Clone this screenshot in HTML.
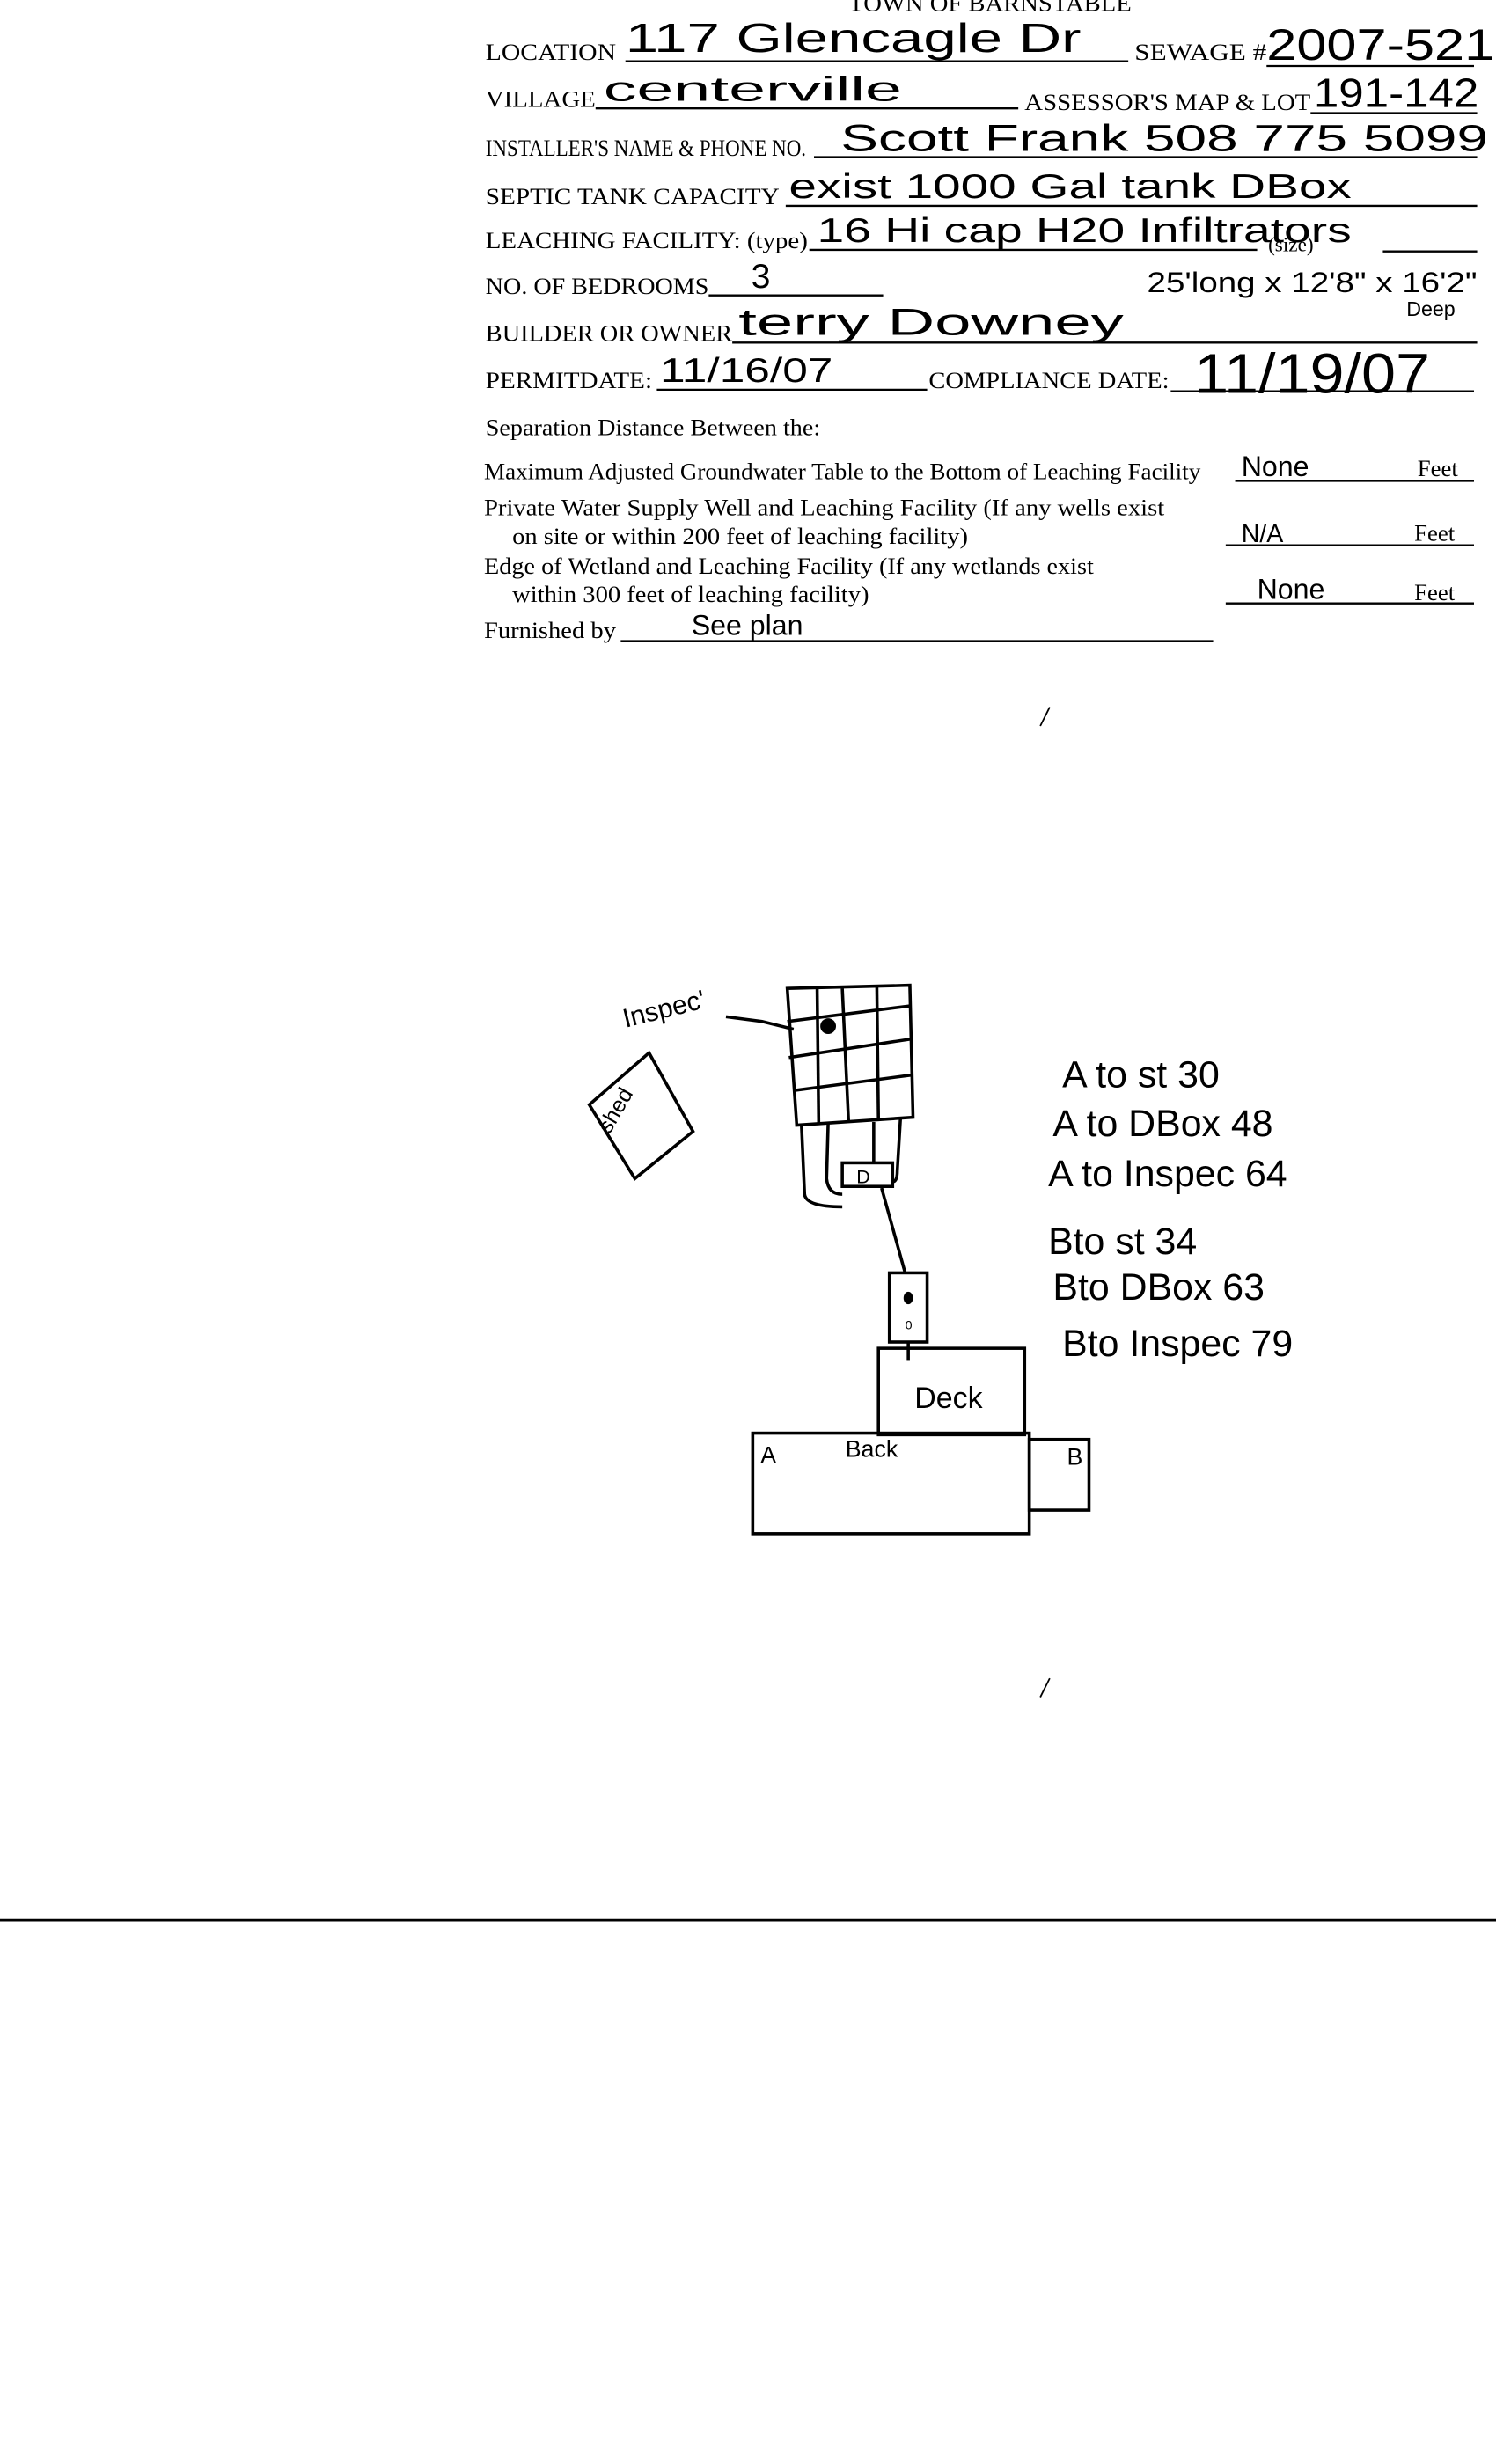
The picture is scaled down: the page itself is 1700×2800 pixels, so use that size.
<!DOCTYPE html>
<html><head><meta charset="utf-8"><style>
html,body{margin:0;padding:0;background:#fff;}
svg{display:block;}
.f{font-family:"Liberation Serif",serif;font-size:15px;fill:#000;}
.h{font-family:"Liberation Sans",sans-serif;fill:#000;}
line,polyline,polygon,path,.s{stroke:#000;fill:none;}
</style></head><body>
<svg width="1700" height="2800" viewBox="0 0 952 1568" xmlns="http://www.w3.org/2000/svg">
<g stroke-width="1.3">
<text class="f" x="540" y="7" textLength="180" lengthAdjust="spacingAndGlyphs">TOWN OF BARNSTABLE</text>
<text class="f" x="309" y="38" textLength="83" lengthAdjust="spacingAndGlyphs">LOCATION</text>
<line x1="398" y1="39" x2="718" y2="39"/>
<text class="h" x="398" y="33" style="font-size:26px" textLength="290" lengthAdjust="spacingAndGlyphs">117 Glencagle Dr</text>
<text class="f" x="722" y="38" textLength="84" lengthAdjust="spacingAndGlyphs">SEWAGE #</text>
<line x1="806" y1="42" x2="938" y2="42"/>
<text class="h" x="806" y="38" style="font-size:28px" textLength="145" lengthAdjust="spacingAndGlyphs">2007-521</text>

<text class="f" x="309" y="68" textLength="70" lengthAdjust="spacingAndGlyphs">VILLAGE</text>
<line x1="379" y1="69" x2="648" y2="69"/>
<text class="h" x="384" y="64" style="font-size:22px" textLength="190" lengthAdjust="spacingAndGlyphs">centerville</text>
<text class="f" x="652" y="70" textLength="182" lengthAdjust="spacingAndGlyphs">ASSESSOR'S MAP &amp; LOT</text>
<line x1="834" y1="72" x2="940" y2="72"/>
<text class="h" x="836" y="68" style="font-size:26px" textLength="105" lengthAdjust="spacingAndGlyphs">191-142</text>

<text class="f" x="309" y="99" textLength="204" lengthAdjust="spacingAndGlyphs">INSTALLER'S NAME &amp; PHONE NO.</text>
<line x1="518" y1="100" x2="940" y2="100"/>
<text class="h" x="535" y="96" style="font-size:24px" textLength="412" lengthAdjust="spacingAndGlyphs">Scott Frank  508 775 5099</text>

<text class="f" x="309" y="130" textLength="187" lengthAdjust="spacingAndGlyphs">SEPTIC TANK CAPACITY</text>
<line x1="500" y1="131" x2="940" y2="131"/>
<text class="h" x="502" y="126" style="font-size:22px" textLength="358" lengthAdjust="spacingAndGlyphs">exist 1000 Gal tank  DBox</text>

<text class="f" x="309" y="158" textLength="205" lengthAdjust="spacingAndGlyphs">LEACHING FACILITY: (type)</text>
<line x1="515" y1="159" x2="800" y2="159"/>
<text class="h" x="520" y="154" style="font-size:22px" textLength="340" lengthAdjust="spacingAndGlyphs">16 Hi cap H20 Infiltrators</text>
<text class="f" x="807" y="160" style="font-size:13px">(size)</text>
<line x1="880" y1="160" x2="940" y2="160"/>
<text class="h" x="730" y="186" style="font-size:18px" textLength="210" lengthAdjust="spacingAndGlyphs">25'long x 12'8" x 16'2"</text>
<text class="h" x="895" y="201" style="font-size:13px">Deep</text>

<text class="f" x="309" y="187" textLength="142" lengthAdjust="spacingAndGlyphs">NO. OF BEDROOMS</text>
<line x1="451" y1="188" x2="562" y2="188"/>
<text class="h" x="478" y="183" style="font-size:22px">3</text>

<text class="f" x="309" y="217" textLength="157" lengthAdjust="spacingAndGlyphs">BUILDER OR OWNER</text>
<line x1="466" y1="218" x2="940" y2="218"/>
<text class="h" x="470" y="213" style="font-size:24px" textLength="245" lengthAdjust="spacingAndGlyphs">terry Downey</text>

<text class="f" x="309" y="247" textLength="106" lengthAdjust="spacingAndGlyphs">PERMITDATE:</text>
<line x1="418" y1="248" x2="590" y2="248"/>
<text class="h" x="420" y="243" style="font-size:22px" textLength="110" lengthAdjust="spacingAndGlyphs">11/16/07</text>
<text class="f" x="591" y="247" textLength="153" lengthAdjust="spacingAndGlyphs">COMPLIANCE  DATE:</text>
<line x1="745" y1="249" x2="938" y2="249"/>
<text class="h" x="760" y="250" style="font-size:36px" textLength="150" lengthAdjust="spacingAndGlyphs">11/19/07</text>

<text class="f" x="309" y="277" textLength="213" lengthAdjust="spacingAndGlyphs">Separation Distance Between the:</text>
<text class="f" x="308" y="305" textLength="456" lengthAdjust="spacingAndGlyphs">Maximum Adjusted Groundwater Table to the Bottom of Leaching Facility</text>
<line x1="786" y1="306" x2="938" y2="306"/>
<text class="h" x="790" y="303" style="font-size:18px">None</text>
<text class="f" x="902" y="303">Feet</text>
<text class="f" x="308" y="328" textLength="433" lengthAdjust="spacingAndGlyphs">Private Water Supply Well and Leaching Facility  (If any wells exist</text>
<text class="f" x="326" y="346" textLength="290" lengthAdjust="spacingAndGlyphs">on site or within 200 feet of leaching facility)</text>
<line x1="780" y1="347" x2="938" y2="347"/>
<text class="h" x="790" y="345" style="font-size:16px">N/A</text>
<text class="f" x="900" y="344">Feet</text>
<text class="f" x="308" y="365" textLength="388" lengthAdjust="spacingAndGlyphs">Edge of Wetland and Leaching Facility (If any wetlands exist</text>
<text class="f" x="326" y="383" textLength="227" lengthAdjust="spacingAndGlyphs">within 300 feet of leaching facility)</text>
<line x1="780" y1="384" x2="938" y2="384"/>
<text class="h" x="800" y="381" style="font-size:18px">None</text>
<text class="f" x="900" y="382">Feet</text>
<text class="f" x="308" y="406" textLength="84" lengthAdjust="spacingAndGlyphs">Furnished by</text>
<line x1="395" y1="408" x2="772" y2="408"/>
<text class="h" x="440" y="404" style="font-size:18px">See plan</text>
</g>

<line x1="668" y1="450" x2="662" y2="462" stroke-width="1"/>
<line x1="668" y1="1068" x2="662" y2="1080" stroke-width="1"/>
<line x1="0" y1="1222" x2="952" y2="1222" stroke-width="1.5"/>

<g stroke-width="2">
<polygon points="501,629 579,627 581,711 507,716"/>
<line x1="520" y1="629" x2="521" y2="716"/>
<line x1="536" y1="629" x2="540" y2="714"/>
<line x1="558" y1="628" x2="559" y2="712"/>
<line x1="501" y1="650" x2="580" y2="640"/>
<line x1="502" y1="673" x2="581" y2="661"/>
<line x1="505" y1="694" x2="581" y2="684"/>
<circle cx="527" cy="653" r="5" fill="#000"/>
<polyline points="462,647 485,650 505,655"/>
<text class="h" x="398" y="654" style="font-size:17px" transform="rotate(-14 398 654)">Inspec'</text>
<polygon points="413,670 441,720 404,750 375,703"/>
<text class="h" x="388" y="722" style="font-size:14px" transform="rotate(-60 388 722)">shed</text>
<path d="M510,715 L512,760 Q513,768 536,768"/>
<path d="M527,715 L526,750 Q527,760 536,760"/>
<line x1="556" y1="714" x2="556" y2="740"/>
<path d="M573,712 L571,745 Q571,752 568,752"/>
<rect class="s" x="536" y="740" width="32" height="15"/>
<text class="h" x="545" y="753" style="font-size:12px">D</text>
<line x1="561" y1="756" x2="576" y2="810"/>
<rect class="s" x="566" y="810" width="24" height="44"/>
<ellipse cx="578" cy="826" rx="3" ry="4" fill="#000"/>
<text class="h" x="576" y="846" style="font-size:8px">0</text>
<line x1="578" y1="854" x2="578" y2="866"/>
<rect class="s" x="559" y="858" width="93" height="55"/>
<text class="h" x="582" y="896" style="font-size:19px">Deck</text>
<rect class="s" x="479" y="912" width="176" height="64"/>
<rect class="s" x="655" y="916" width="38" height="45"/>
<text class="h" x="484" y="931" style="font-size:15px">A</text>
<text class="h" x="538" y="927" style="font-size:15px">Back</text>
<text class="h" x="679" y="932" style="font-size:15px">B</text>
</g>
<text class="h" x="676" y="692" style="font-size:24px">A to st  30</text>
<text class="h" x="670" y="723" style="font-size:24px">A to DBox  48</text>
<text class="h" x="667" y="755" style="font-size:24px">A to Inspec 64</text>
<text class="h" x="667" y="798" style="font-size:24px">Bto st   34</text>
<text class="h" x="670" y="827" style="font-size:24px">Bto DBox 63</text>
<text class="h" x="676" y="863" style="font-size:24px">Bto Inspec  79</text>
</svg>
</body></html>
